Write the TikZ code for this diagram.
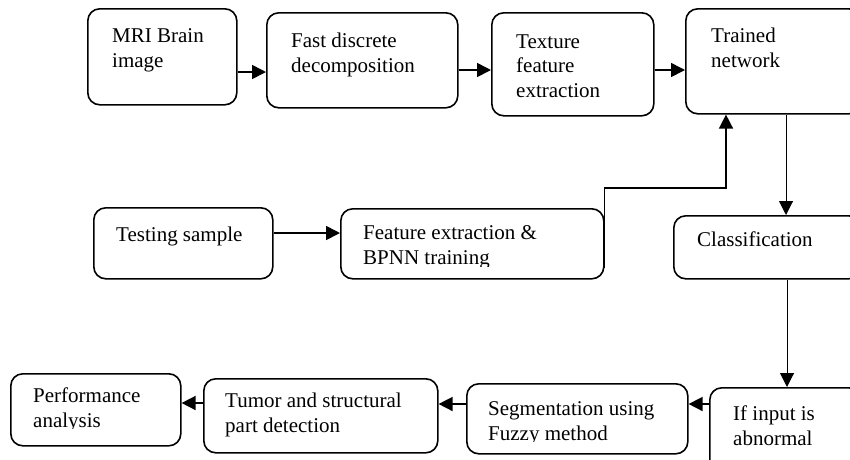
\documentclass[tikz,border=0pt]{standalone}
\usepackage{fontspec}
\setmainfont{Liberation Serif}
\usetikzlibrary{arrows.meta}
\begin{document}
\begin{tikzpicture}[x=1pt,y=-1pt,
  box/.style={draw, line width=1.6pt, rounded corners=12pt, inner sep=0pt, anchor=north west},
  txt/.style={anchor=base west, align=left, inner sep=0pt, font=\fontsize{21}{24.5}\selectfont},
  arr/.style={line width=1.6pt, -{Triangle[length=14pt,width=14pt]}},
  thinarr/.style={line width=1pt, -{Triangle[length=14pt,width=14pt]}}]
\useasboundingbox (0,0) rectangle (850,459);
\clip (0,0) rectangle (850,459);
% boxes
\node[box, minimum width=149pt, minimum height=96pt] (mri) at (87,8) {};
\node[box, minimum width=191pt, minimum height=95pt] (fast) at (266,12) {};
\node[box, minimum width=162pt, minimum height=103pt] (tex) at (491,12) {};
\node[box, minimum width=175pt, minimum height=105pt] (trained) at (685,8) {};
\node[box, minimum width=179pt, minimum height=71pt] (test) at (93,207) {};
\node[box, minimum width=263pt, minimum height=70pt] (feat) at (340,208) {};
\node[box, minimum width=187pt, minimum height=63pt] (cls) at (673,215) {};
\node[box, minimum width=151pt, minimum height=90pt] (ifab) at (709,387) {};
\node[box, minimum width=221pt, minimum height=70pt] (seg) at (466,383) {};
\node[box, minimum width=234pt, minimum height=74pt] (tumor) at (203,378) {};
\node[box, minimum width=170pt, minimum height=72pt] (perf) at (10,373) {};
% texts (base anchor = baseline of the last line)
\node[txt] (tmri) at (112,67) {MRI Brain\\image};
\node[txt] (tfast) at (291,72) {Fast discrete\\decomposition};
\node[txt] (ttex) at (516,97) {Texture\\feature\\extraction};
\node[txt] (ttrained) at (711,67) {Trained\\network};
\node[txt] (ttest) at (116,241) {Testing sample};
\begin{scope}
\clip (340,208) rectangle (603,266);
\node[txt] (tfeat) at (363,264) {Feature extraction \&\\BPNN training};
\end{scope}
\node[txt] (tcls) at (697,246) {Classification};
\node[txt] (tif) at (733,445) {If input is\\abnormal};
\begin{scope}
\clip (466,383) rectangle (687,441);
\node[txt] (tseg) at (488,440) {Segmentation using\\Fuzzy method};
\end{scope}
\node[txt] (ttumor) at (225,432) {Tumor and structural\\part detection};
\begin{scope}
\clip (10,373) rectangle (180,428);
\node[txt] (tperf) at (33,427) {Performance\\analysis};
\end{scope}
% connectors
\draw[arr] (mri.east |- 0,72) -- (fast.west |- 0,72);
\draw[arr] (fast.east |- 0,70) -- (tex.west |- 0,70);
\draw[arr] (tex.east |- 0,70) -- (trained.west |- 0,70);
\draw[arr] (test.east |- 0,233) -- (feat.west |- 0,233);
\draw[arr] (feat.east |- 0,268) |- (726,188) -- (trained.south -| 726,0);
\draw[thinarr] (trained.south -| 786,0) -- (cls.north -| 786,0);
\draw[thinarr] (cls.south -| 787,0) -- (ifab.north -| 787,0);
\draw[arr] (ifab.west |- 0,404) -- (seg.east |- 0,404);
\draw[arr] (seg.west |- 0,404) -- (tumor.east |- 0,404);
\draw[arr] (tumor.west |- 0,403) -- (perf.east |- 0,403);
\end{tikzpicture}
\end{document}
